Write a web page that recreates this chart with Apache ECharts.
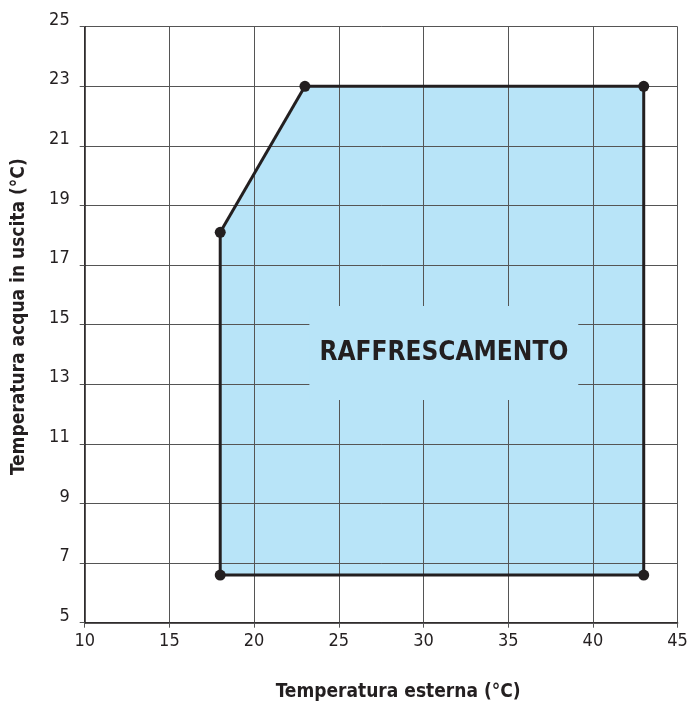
<!DOCTYPE html>
<html>
<head>
<meta charset="utf-8">
<script src="https://cdn.jsdelivr.net/npm/echarts@6/dist/echarts.min.js"></script>
<style>
html,body{margin:0;padding:0;background:#fff;}
#c{width:687px;height:705px;}
</style>
</head>
<body>
<div id="c"></div>
<script>
// Data
var xTicks = [10, 15, 20, 25, 30, 35, 40, 45];
var yTicks = [5, 7, 9, 11, 13, 15, 17, 19, 21, 23, 25];
var envelopeX = [18, 18, 23, 43, 43];
var envelopeY = [6.6, 18.1, 23, 23, 6.6];
var regionLabel = 'RAFFRESCAMENTO';
var regionLabelPos = [31.2, 14.05];
var xTitle = 'Temperatura esterna (°C)';
var yTitle = 'Temperatura acqua in uscita (°C)';

var pts = envelopeX.map(function (x, i) { return [x, envelopeY[i]]; });

var FONT = '"DejaVu Sans Condensed", "Liberation Sans Narrow", "Liberation Sans", sans-serif';
var INK = '#231f20';
var FILL = '#b8e4f8';
var GRID = '#555555';

var chart = echarts.init(document.getElementById('c'));
chart.setOption({
  backgroundColor: '#ffffff',
  animation: false,
  grid: { left: 84.7, right: 9.4, top: 26.7, bottom: 82.3, containLabel: false, outerBoundsMode: 'none' },
  xAxis: {
    type: 'value',
    min: xTicks[0], max: xTicks[xTicks.length - 1], interval: xTicks[1] - xTicks[0],
    name: xTitle, nameLocation: 'middle', nameGap: 60,
    nameTextStyle: { fontFamily: FONT, fontWeight: 'bold', fontSize: 19, color: INK, padding: [0, 0, 0, 34] },
    axisLine: { show: true, lineStyle: { color: INK, width: 1.5 } },
    axisTick: { show: true, length: 5, lineStyle: { color: GRID } },
    axisLabel: { fontFamily: FONT, fontSize: 18, color: INK, margin: 10 },
    splitLine: { show: true, lineStyle: { color: GRID, width: 1 } }
  },
  yAxis: {
    type: 'value',
    min: yTicks[0], max: yTicks[yTicks.length - 1], interval: yTicks[1] - yTicks[0],
    name: yTitle, nameLocation: 'middle', nameGap: 56,
    nameTextStyle: { fontFamily: FONT, fontWeight: 'bold', fontSize: 19, color: INK, padding: [0, 0, 0, 16] },
    axisLine: { show: true, lineStyle: { color: INK, width: 1.5 } },
    axisTick: { show: true, length: 5, lineStyle: { color: GRID } },
    axisLabel: { fontFamily: FONT, fontSize: 18, color: INK, margin: 15, verticalAlign: 'bottom', lineHeight: 13 },
    splitLine: { show: true, lineStyle: { color: GRID, width: 1 } }
  },
  series: [
    {
      type: 'custom',
      z: -1,
      silent: true,
      data: pts,
      renderItem: function (params, api) {
        if (params.dataIndex !== 0) return null;
        var poly = pts.map(function (p) { return api.coord(p); });
        return { type: 'polygon', shape: { points: poly }, style: { fill: FILL, stroke: null } };
      }
    },
    {
      type: 'custom',
      z: 5,
      silent: true,
      clip: false,
      data: pts,
      renderItem: function (params, api) {
        var i = params.dataIndex;
        var p = api.coord([api.value(0), api.value(1)]);
        var nx = pts[(i + 1) % pts.length];
        var q = api.coord(nx);
        return {
          type: 'group',
          children: [
            { type: 'line', shape: { x1: p[0], y1: p[1], x2: q[0], y2: q[1] }, style: { stroke: INK, lineWidth: 3 }, z2: 1 },
            { type: 'circle', shape: { cx: p[0], cy: p[1], r: 5.5 }, style: { fill: INK }, z2: 2 }
          ]
        };
      }
    },
    {
      type: 'custom',
      z: 6,
      silent: true,
      data: [regionLabelPos],
      renderItem: function (params, api) {
        var c = api.coord([api.value(0), api.value(1)]);
        return {
          type: 'text',
          x: c[0], y: c[1],
          style: {
            text: regionLabel,
            font: 'bold 26px ' + FONT,
            fill: INK,
            align: 'center',
            verticalAlign: 'middle',
            backgroundColor: FILL,
            padding: [34, 10, 34, 10]
          }
        };
      }
    }
  ]
});
</script>
</body>
</html>
